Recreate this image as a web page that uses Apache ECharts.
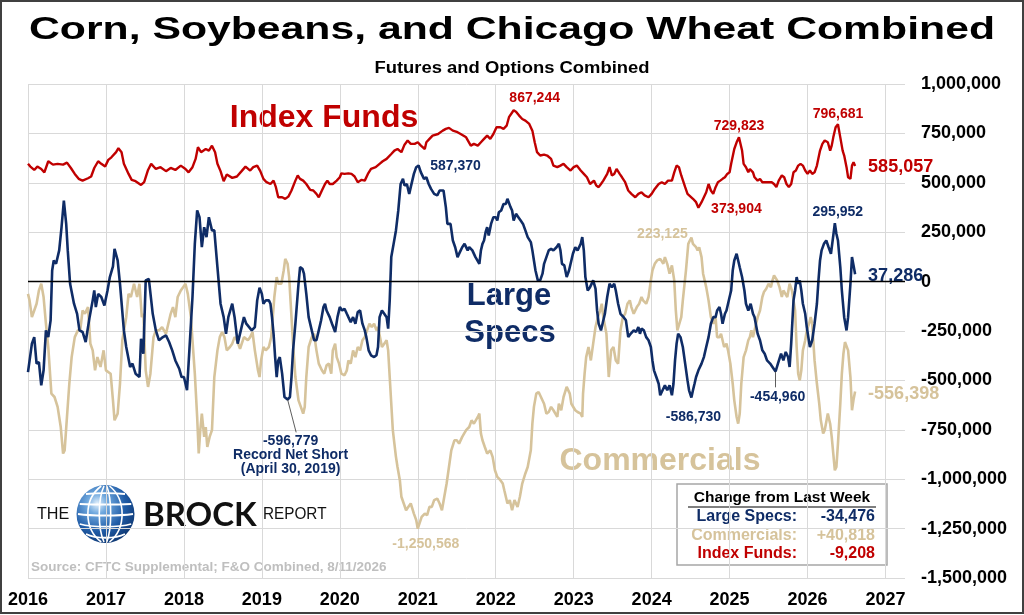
<!DOCTYPE html>
<html>
<head>
<meta charset="utf-8">
<title>Corn, Soybeans, and Chicago Wheat Combined</title>
<script src="https://cdn.jsdelivr.net/npm/echarts@6/dist/echarts.min.js"></script>
<style>
  html, body { margin: 0; padding: 0; background: #fff; }
  #chart { width: 1024px; height: 615px; }
</style>
</head>
<body>
<div id="chart"></div>
<script>
// net positions (contracts), [decimal year, value]
const indexFunds = [
  [2016.00,596000],[2016.03,582000],[2016.08,565000],[2016.12,582000],[2016.17,570000],[2016.21,553000],[2016.26,609000],[2016.32,592000],
  [2016.38,596000],[2016.45,592000],[2016.50,602000],[2016.55,575000],[2016.60,545000],[2016.65,520000],[2016.70,511000],[2016.77,523000],
  [2016.81,532000],[2016.85,575000],[2016.90,609000],[2016.94,596000],[2016.99,582000],[2017.03,616000],[2017.07,629000],[2017.13,655000],
  [2017.16,675000],[2017.20,655000],[2017.23,596000],[2017.29,545000],[2017.33,515000],[2017.38,508000],[2017.45,489000],[2017.49,503000],
  [2017.54,565000],[2017.58,596000],[2017.64,570000],[2017.70,579000],[2017.77,559000],[2017.83,575000],[2017.89,565000],[2017.96,587000],
  [2018.02,570000],[2018.06,553000],[2018.11,579000],[2018.15,621000],[2018.18,680000],[2018.22,655000],[2018.28,671000],[2018.32,663000],
  [2018.36,688000],[2018.40,655000],[2018.43,596000],[2018.47,559000],[2018.51,508000],[2018.55,542000],[2018.62,525000],[2018.68,532000],
  [2018.74,559000],[2018.79,582000],[2018.85,562000],[2018.89,579000],[2018.94,587000],[2018.98,559000],[2019.02,520000],[2019.06,503000],
  [2019.11,494000],[2019.15,511000],[2019.18,478000],[2019.21,427000],[2019.26,427000],[2019.30,419000],[2019.34,430000],[2019.38,461000],
  [2019.43,511000],[2019.46,537000],[2019.49,520000],[2019.53,511000],[2019.57,494000],[2019.62,464000],[2019.66,461000],[2019.70,444000],
  [2019.73,427000],[2019.77,461000],[2019.81,494000],[2019.84,511000],[2019.87,494000],[2019.91,494000],[2019.96,511000],[2020.00,528000],
  [2020.02,548000],[2020.06,545000],[2020.11,548000],[2020.15,545000],[2020.19,532000],[2020.23,503000],[2020.28,515000],[2020.32,511000],
  [2020.36,545000],[2020.40,570000],[2020.46,579000],[2020.51,596000],[2020.55,609000],[2020.60,621000],[2020.66,646000],[2020.70,663000],
  [2020.74,671000],[2020.79,655000],[2020.83,693000],[2020.87,714000],[2020.91,697000],[2020.96,697000],[2021.00,705000],[2021.04,688000],
  [2021.09,671000],[2021.11,705000],[2021.15,722000],[2021.19,739000],[2021.26,747000],[2021.32,764000],[2021.36,773000],[2021.40,778000],
  [2021.45,764000],[2021.51,756000],[2021.55,747000],[2021.62,730000],[2021.68,688000],[2021.72,697000],[2021.77,688000],[2021.81,705000],
  [2021.85,722000],[2021.89,739000],[2021.93,722000],[2021.97,747000],[2022.01,781000],[2022.06,781000],[2022.10,773000],[2022.14,789000],
  [2022.17,832000],[2022.23,867244],[2022.26,860000],[2022.30,840000],[2022.34,823000],[2022.38,815000],[2022.43,798000],[2022.45,789000],
  [2022.47,764000],[2022.50,705000],[2022.53,655000],[2022.57,638000],[2022.62,643000],[2022.66,638000],[2022.71,621000],[2022.74,587000],
  [2022.79,579000],[2022.83,587000],[2022.87,596000],[2022.91,579000],[2022.96,562000],[2023.00,579000],[2023.04,587000],[2023.09,562000],
  [2023.13,545000],[2023.17,528000],[2023.21,494000],[2023.26,511000],[2023.29,486000],[2023.32,478000],[2023.35,494000],[2023.38,511000],
  [2023.43,545000],[2023.46,579000],[2023.49,537000],[2023.52,545000],[2023.55,570000],[2023.59,545000],[2023.62,528000],[2023.66,503000],
  [2023.70,461000],[2023.74,444000],[2023.79,427000],[2023.83,444000],[2023.87,452000],[2023.91,436000],[2023.96,427000],[2024.00,444000],
  [2024.04,469000],[2024.09,494000],[2024.13,503000],[2024.17,494000],[2024.21,511000],[2024.26,511000],[2024.29,553000],[2024.32,587000],
  [2024.35,579000],[2024.38,537000],[2024.43,478000],[2024.46,444000],[2024.48,436000],[2024.53,419000],[2024.57,402000],[2024.60,373904],
  [2024.64,402000],[2024.67,427000],[2024.70,452000],[2024.73,494000],[2024.76,461000],[2024.79,444000],[2024.82,478000],[2024.85,503000],
  [2024.88,511000],[2024.91,520000],[2024.94,528000],[2024.97,545000],[2025.00,553000],[2025.02,596000],[2025.06,671000],[2025.09,705000],
  [2025.12,729823],[2025.14,722000],[2025.16,663000],[2025.18,596000],[2025.21,579000],[2025.24,553000],[2025.26,570000],[2025.28,579000],
  [2025.30,553000],[2025.32,528000],[2025.36,511000],[2025.39,520000],[2025.42,503000],[2025.45,503000],[2025.49,503000],[2025.54,503000],
  [2025.57,494000],[2025.60,478000],[2025.63,511000],[2025.67,537000],[2025.70,528000],[2025.73,494000],[2025.76,478000],[2025.79,494000],
  [2025.82,553000],[2025.85,562000],[2025.88,587000],[2025.91,596000],[2025.94,587000],[2025.97,562000],[2026.00,545000],[2026.03,562000],
  [2026.06,545000],[2026.09,553000],[2026.12,587000],[2026.16,663000],[2026.19,697000],[2026.22,714000],[2026.26,705000],[2026.29,663000],
  [2026.31,688000],[2026.33,730000],[2026.36,781000],[2026.39,796681],[2026.42,730000],[2026.45,663000],[2026.47,638000],[2026.50,579000],
  [2026.52,528000],[2026.55,520000],[2026.57,587000],[2026.59,604000],[2026.61,585057]
];

const largeSpecs = [
  [2016.00,-458000],[2016.02,-466000],[2016.05,-314000],[2016.08,-281000],[2016.11,-415000],[2016.14,-407000],[2016.17,-525000],[2016.20,-449000],
  [2016.23,-247000],[2016.26,-281000],[2016.29,-196000],[2016.31,56000],[2016.33,107000],[2016.36,90000],[2016.40,158000],[2016.43,275000],
  [2016.46,410000],[2016.49,292000],[2016.51,158000],[2016.54,-11000],[2016.59,-112000],[2016.63,-163000],[2016.66,-247000],[2016.70,-255000],
  [2016.74,-306000],[2016.79,-180000],[2016.83,-95000],[2016.85,-45000],[2016.87,-129000],[2016.90,-62000],[2016.94,-78000],[2016.98,-121000],
  [2017.02,-45000],[2017.05,23000],[2017.09,77000],[2017.11,166000],[2017.15,107000],[2017.18,-11000],[2017.23,-247000],[2017.26,-331000],
  [2017.31,-432000],[2017.34,-415000],[2017.38,-466000],[2017.43,-483000],[2017.45,-289000],[2017.48,-365000],[2017.51,6000],[2017.55,14000],
  [2017.60,-163000],[2017.64,-247000],[2017.68,-297000],[2017.72,-284000],[2017.77,-272000],[2017.81,-306000],[2017.85,-348000],[2017.89,-399000],
  [2017.94,-441000],[2017.97,-483000],[2018.00,-483000],[2018.04,-550000],[2018.07,-348000],[2018.11,-78000],[2018.14,191000],[2018.17,360000],
  [2018.20,326000],[2018.23,174000],[2018.26,275000],[2018.29,225000],[2018.32,326000],[2018.36,259000],[2018.39,259000],[2018.43,73000],
  [2018.47,-112000],[2018.51,-180000],[2018.54,-264000],[2018.57,-180000],[2018.62,-112000],[2018.65,-180000],[2018.69,-314000],[2018.73,-247000],
  [2018.77,-180000],[2018.80,-213000],[2018.87,-247000],[2018.91,-230000],[2018.94,-95000],[2018.97,-31000],[2019.00,-62000],[2019.02,-112000],
  [2019.05,-95000],[2019.09,-95000],[2019.11,-112000],[2019.13,-180000],[2019.15,-264000],[2019.17,-382000],[2019.19,-483000],[2019.21,-399000],
  [2019.23,-382000],[2019.26,-466000],[2019.29,-584000],[2019.33,-596779],[2019.36,-584000],[2019.38,-483000],[2019.40,-348000],[2019.43,-213000],
  [2019.47,-11000],[2019.49,73000],[2019.52,65000],[2019.54,40000],[2019.57,-62000],[2019.60,-180000],[2019.64,-247000],[2019.67,-297000],
  [2019.70,-297000],[2019.73,-247000],[2019.76,-196000],[2019.79,-129000],[2019.81,-112000],[2019.83,-146000],[2019.87,-180000],[2019.90,-213000],
  [2019.94,-255000],[2019.97,-180000],[2020.00,-129000],[2020.03,-146000],[2020.06,-137000],[2020.09,-163000],[2020.11,-180000],[2020.14,-205000],
  [2020.17,-180000],[2020.20,-213000],[2020.23,-154000],[2020.26,-146000],[2020.29,-213000],[2020.32,-247000],[2020.34,-281000],[2020.37,-348000],
  [2020.40,-373000],[2020.44,-382000],[2020.47,-373000],[2020.49,-331000],[2020.51,-180000],[2020.54,-146000],[2020.57,-163000],[2020.60,-180000],
  [2020.62,-238000],[2020.64,-95000],[2020.66,124000],[2020.69,191000],[2020.72,259000],[2020.75,360000],[2020.78,494000],[2020.81,520000],
  [2020.83,486000],[2020.86,494000],[2020.89,444000],[2020.91,478000],[2020.95,545000],[2020.98,579000],[2021.01,587370],[2021.04,553000],
  [2021.08,520000],[2021.11,528000],[2021.14,494000],[2021.17,469000],[2021.21,444000],[2021.25,436000],[2021.28,461000],[2021.33,461000],
  [2021.36,377000],[2021.38,292000],[2021.42,292000],[2021.45,208000],[2021.48,174000],[2021.51,124000],[2021.54,149000],[2021.57,174000],
  [2021.60,191000],[2021.64,158000],[2021.66,175000],[2021.70,158000],[2021.74,124000],[2021.79,90000],[2021.81,158000],[2021.83,191000],
  [2021.85,208000],[2021.87,250000],[2021.89,275000],[2021.91,233000],[2021.94,292000],[2021.97,326000],[2022.00,326000],[2022.02,309000],
  [2022.04,351000],[2022.07,360000],[2022.10,393000],[2022.13,393000],[2022.15,419000],[2022.17,419000],[2022.19,377000],[2022.21,360000],
  [2022.23,309000],[2022.26,343000],[2022.29,326000],[2022.32,309000],[2022.35,292000],[2022.38,259000],[2022.41,225000],[2022.45,200000],
  [2022.47,158000],[2022.49,107000],[2022.51,56000],[2022.54,6000],[2022.57,6000],[2022.60,40000],[2022.62,90000],[2022.65,124000],
  [2022.68,158000],[2022.71,166000],[2022.74,158000],[2022.78,174000],[2022.81,191000],[2022.83,158000],[2022.85,90000],[2022.88,82000],
  [2022.91,23000],[2022.94,56000],[2022.97,107000],[2022.99,141000],[2023.02,174000],[2023.05,158000],[2023.09,191000],[2023.11,225000],
  [2023.13,158000],[2023.15,23000],[2023.18,-45000],[2023.21,-28000],[2023.25,6000],[2023.28,-36000],[2023.30,-146000],[2023.32,-213000],
  [2023.35,-247000],[2023.37,-213000],[2023.40,-163000],[2023.43,-78000],[2023.46,-11000],[2023.49,-28000],[2023.52,-11000],[2023.54,-45000],
  [2023.57,-112000],[2023.60,-163000],[2023.64,-180000],[2023.67,-196000],[2023.70,-281000],[2023.73,-264000],[2023.77,-247000],[2023.80,-255000],
  [2023.83,-230000],[2023.85,-264000],[2023.87,-238000],[2023.90,-247000],[2023.93,-281000],[2023.96,-297000],[2023.99,-331000],[2024.01,-399000],
  [2024.03,-449000],[2024.06,-483000],[2024.09,-517000],[2024.11,-575000],[2024.14,-550000],[2024.17,-525000],[2024.20,-550000],[2024.23,-525000],
  [2024.26,-575000],[2024.28,-517000],[2024.30,-399000],[2024.32,-314000],[2024.34,-264000],[2024.37,-281000],[2024.40,-331000],[2024.43,-415000],
  [2024.46,-500000],[2024.48,-550000],[2024.51,-586730],[2024.53,-550000],[2024.55,-517000],[2024.57,-483000],[2024.60,-449000],[2024.64,-415000],
  [2024.67,-382000],[2024.70,-331000],[2024.73,-281000],[2024.76,-213000],[2024.79,-180000],[2024.82,-180000],[2024.84,-146000],[2024.87,-129000],
  [2024.89,-163000],[2024.91,-213000],[2024.94,-163000],[2024.96,-146000],[2024.98,-112000],[2025.00,-78000],[2025.02,-45000],[2025.04,56000],
  [2025.06,107000],[2025.09,141000],[2025.11,107000],[2025.13,73000],[2025.16,23000],[2025.19,-45000],[2025.21,-112000],[2025.24,-146000],
  [2025.27,-112000],[2025.30,-163000],[2025.32,-180000],[2025.36,-264000],[2025.39,-297000],[2025.42,-348000],[2025.45,-365000],[2025.48,-399000],
  [2025.52,-415000],[2025.55,-432000],[2025.59,-454960],[2025.62,-415000],[2025.66,-365000],[2025.69,-399000],[2025.72,-356000],[2025.75,-382000],
  [2025.77,-432000],[2025.79,-314000],[2025.82,-95000],[2025.84,-45000],[2025.86,23000],[2025.88,-11000],[2025.90,6000],[2025.92,-45000],
  [2025.94,-112000],[2025.97,-163000],[2025.99,-230000],[2026.01,-281000],[2026.03,-331000],[2026.06,-297000],[2026.09,-213000],[2026.12,-112000],
  [2026.14,6000],[2026.16,107000],[2026.18,158000],[2026.21,191000],[2026.24,208000],[2026.27,174000],[2026.30,141000],[2026.33,233000],
  [2026.35,295952],[2026.37,242000],[2026.39,208000],[2026.42,73000],[2026.44,-45000],[2026.47,-180000],[2026.50,-247000],[2026.52,-180000],
  [2026.55,-11000],[2026.57,124000],[2026.59,82000],[2026.61,37286]
];

const commercials = [
  [2016.00,-62000],[2016.02,-95000],[2016.05,-180000],[2016.08,-146000],[2016.11,-112000],[2016.14,-45000],[2016.17,-11000],[2016.20,-78000],
  [2016.23,-213000],[2016.26,-331000],[2016.30,-567000],[2016.34,-584000],[2016.38,-634000],[2016.42,-736000],[2016.45,-870000],[2016.47,-854000],
  [2016.50,-685000],[2016.53,-517000],[2016.56,-382000],[2016.60,-281000],[2016.64,-247000],[2016.67,-247000],[2016.70,-146000],[2016.73,-163000],
  [2016.77,-129000],[2016.80,-314000],[2016.83,-348000],[2016.86,-449000],[2016.89,-382000],[2016.93,-432000],[2016.97,-348000],[2017.00,-449000],
  [2017.02,-449000],[2017.06,-466000],[2017.09,-601000],[2017.11,-702000],[2017.15,-668000],[2017.18,-517000],[2017.21,-297000],[2017.26,-180000],
  [2017.29,-62000],[2017.32,-78000],[2017.36,-11000],[2017.40,-78000],[2017.43,-11000],[2017.46,-180000],[2017.48,-163000],[2017.51,-449000],
  [2017.54,-533000],[2017.57,-466000],[2017.61,-281000],[2017.64,-247000],[2017.68,-247000],[2017.72,-230000],[2017.77,-264000],[2017.80,-213000],
  [2017.83,-163000],[2017.86,-129000],[2017.89,-180000],[2017.92,-78000],[2017.96,-45000],[2017.99,-28000],[2018.02,-11000],[2018.05,-62000],
  [2018.09,-180000],[2018.11,-297000],[2018.14,-466000],[2018.17,-685000],[2018.19,-870000],[2018.21,-752000],[2018.23,-668000],[2018.26,-786000],
  [2018.28,-736000],[2018.30,-837000],[2018.33,-786000],[2018.36,-752000],[2018.39,-483000],[2018.43,-348000],[2018.46,-281000],[2018.49,-255000],
  [2018.52,-281000],[2018.55,-348000],[2018.59,-331000],[2018.62,-314000],[2018.65,-281000],[2018.68,-297000],[2018.72,-340000],[2018.77,-281000],
  [2018.82,-297000],[2018.85,-281000],[2018.88,-255000],[2018.91,-348000],[2018.95,-449000],[2018.97,-483000],[2018.99,-399000],[2019.02,-331000],
  [2019.05,-348000],[2019.09,-331000],[2019.12,-281000],[2019.14,-180000],[2019.16,-78000],[2019.19,23000],[2019.21,-11000],[2019.25,-11000],
  [2019.28,56000],[2019.30,115000],[2019.33,90000],[2019.35,23000],[2019.37,-112000],[2019.40,-314000],[2019.43,-483000],[2019.47,-601000],
  [2019.50,-634000],[2019.53,-668000],[2019.55,-634000],[2019.57,-483000],[2019.60,-331000],[2019.64,-281000],[2019.67,-264000],[2019.70,-348000],
  [2019.73,-415000],[2019.77,-449000],[2019.80,-466000],[2019.83,-424000],[2019.86,-415000],[2019.89,-466000],[2019.91,-348000],[2019.94,-314000],
  [2019.96,-382000],[2019.99,-415000],[2020.02,-466000],[2020.06,-474000],[2020.09,-449000],[2020.11,-399000],[2020.14,-415000],[2020.17,-348000],
  [2020.20,-382000],[2020.23,-331000],[2020.26,-348000],[2020.29,-297000],[2020.32,-281000],[2020.35,-247000],[2020.38,-213000],[2020.41,-230000],
  [2020.44,-213000],[2020.47,-247000],[2020.49,-230000],[2020.51,-238000],[2020.54,-331000],[2020.57,-314000],[2020.60,-297000],[2020.62,-348000],
  [2020.64,-483000],[2020.66,-618000],[2020.68,-752000],[2020.70,-820000],[2020.72,-887000],[2020.74,-938000],[2020.77,-1005000],[2020.79,-1089000],
  [2020.82,-1123000],[2020.85,-1157000],[2020.88,-1140000],[2020.91,-1123000],[2020.95,-1174000],[2020.98,-1207000],[2021.00,-1250568],[2021.02,-1241000],
  [2021.05,-1191000],[2021.09,-1174000],[2021.12,-1182000],[2021.15,-1140000],[2021.18,-1140000],[2021.21,-1106000],[2021.25,-1098000],[2021.28,-1123000],
  [2021.31,-1157000],[2021.34,-1089000],[2021.37,-1022000],[2021.40,-938000],[2021.43,-854000],[2021.47,-803000],[2021.50,-803000],[2021.53,-820000],
  [2021.57,-786000],[2021.62,-752000],[2021.66,-736000],[2021.69,-702000],[2021.72,-719000],[2021.77,-685000],[2021.79,-668000],[2021.81,-769000],
  [2021.83,-803000],[2021.86,-837000],[2021.89,-870000],[2021.93,-854000],[2021.96,-887000],[2021.99,-955000],[2022.02,-988000],[2022.06,-1005000],
  [2022.09,-1022000],[2022.11,-1056000],[2022.15,-1123000],[2022.18,-1106000],[2022.21,-1157000],[2022.24,-1106000],[2022.28,-1140000],[2022.31,-1089000],
  [2022.34,-1022000],[2022.38,-971000],[2022.41,-938000],[2022.45,-854000],[2022.47,-719000],[2022.49,-634000],[2022.52,-567000],[2022.55,-559000],
  [2022.58,-584000],[2022.62,-618000],[2022.65,-668000],[2022.68,-660000],[2022.71,-634000],[2022.74,-651000],[2022.79,-685000],[2022.81,-618000],
  [2022.84,-651000],[2022.87,-584000],[2022.91,-533000],[2022.95,-567000],[2022.97,-618000],[2022.99,-618000],[2023.02,-651000],[2023.05,-660000],
  [2023.09,-668000],[2023.11,-685000],[2023.12,-567000],[2023.14,-466000],[2023.16,-382000],[2023.19,-331000],[2023.22,-399000],[2023.25,-314000],
  [2023.28,-230000],[2023.31,-180000],[2023.34,-146000],[2023.36,-112000],[2023.38,-180000],[2023.42,-264000],[2023.45,-483000],[2023.48,-348000],
  [2023.51,-331000],[2023.54,-399000],[2023.57,-415000],[2023.60,-247000],[2023.63,-180000],[2023.66,-163000],[2023.69,-112000],[2023.72,-95000],
  [2023.74,-129000],[2023.77,-163000],[2023.81,-129000],[2023.84,-112000],[2023.87,-78000],[2023.89,-95000],[2023.93,-112000],[2023.96,-78000],
  [2023.99,6000],[2024.01,56000],[2024.04,90000],[2024.07,107000],[2024.11,115000],[2024.15,90000],[2024.17,124000],[2024.20,90000],
  [2024.23,40000],[2024.26,82000],[2024.29,6000],[2024.31,-146000],[2024.33,-247000],[2024.35,-247000],[2024.38,-180000],[2024.40,-95000],
  [2024.44,56000],[2024.47,191000],[2024.49,208000],[2024.51,223125],[2024.53,191000],[2024.55,200000],[2024.57,174000],[2024.59,158000],
  [2024.61,174000],[2024.64,124000],[2024.66,40000],[2024.68,6000],[2024.70,-28000],[2024.73,-95000],[2024.76,-180000],[2024.79,-213000],
  [2024.82,-180000],[2024.84,-281000],[2024.87,-281000],[2024.89,-264000],[2024.93,-331000],[2024.96,-314000],[2024.98,-348000],[2025.01,-415000],
  [2025.04,-517000],[2025.06,-601000],[2025.09,-685000],[2025.11,-719000],[2025.13,-668000],[2025.15,-517000],[2025.18,-382000],[2025.21,-348000],
  [2025.24,-297000],[2025.26,-281000],[2025.28,-247000],[2025.30,-281000],[2025.32,-247000],[2025.34,-213000],[2025.36,-180000],[2025.39,-146000],
  [2025.42,-78000],[2025.44,-53000],[2025.47,-36000],[2025.50,-11000],[2025.53,-28000],[2025.55,6000],[2025.57,31000],[2025.59,40000],
  [2025.61,6000],[2025.64,-28000],[2025.67,-78000],[2025.69,-45000],[2025.71,-45000],[2025.74,-78000],[2025.77,-11000],[2025.80,-45000],
  [2025.84,-146000],[2025.86,-331000],[2025.88,-466000],[2025.90,-500000],[2025.92,-449000],[2025.94,-348000],[2025.97,-297000],[2025.99,-247000],
  [2026.02,-213000],[2026.04,-180000],[2026.06,-213000],[2026.09,-399000],[2026.12,-517000],[2026.15,-618000],[2026.17,-702000],[2026.20,-769000],
  [2026.22,-752000],[2026.26,-668000],[2026.29,-719000],[2026.31,-786000],[2026.33,-870000],[2026.35,-955000],[2026.37,-938000],[2026.39,-820000],
  [2026.42,-618000],[2026.44,-466000],[2026.46,-365000],[2026.48,-306000],[2026.50,-297000],[2026.52,-348000],[2026.55,-483000],[2026.57,-651000],
  [2026.59,-597000],[2026.61,-556398]
];

const yearTicks = [2016, 2027];             // first / last labelled year
const yRange = [-1500000, 1000000, 250000];  // min, max, step
const weeklyChange = [
  ['Large Specs:', '-34,476'],
  ['Commercials:', '+40,818'],
  ['Index Funds:', '-9,208']
];

const RED = '#C00000';
const NAVY = '#0F2C66';
const TAN = '#D6C39B';
const FONT = '"Liberation Sans", Arial, sans-serif';
const fmt = v => Math.round(v).toLocaleString('en-US');

const chart = echarts.init(document.getElementById('chart'));

// label that sits next to a data point
function note(coord, text, offset, color, extra) {
  return {
    coord: coord,
    symbolSize: 0,
    label: Object.assign({
      show: true, formatter: text, offset: offset, color: color,
      fontSize: 14, fontWeight: 'bold', fontFamily: FONT
    }, extra || {})
  };
}

function txt(x, y, text, font, fill, align, extra) {
  return Object.assign({
    type: 'text', x: x, y: y, silent: true,
    style: {
      text: text, font: font, fill: fill,
      align: align || 'left', textAlign: align || 'left',
      verticalAlign: 'middle', textVerticalAlign: 'middle'
    }
  }, extra || {});
}

// the little globe in the logo
const globe = [];
const gx = 105.5, gy = 514, gr = 29;
globe.push({
  type: 'circle', silent: true,
  shape: { cx: gx, cy: gy, r: gr },
  style: {
    fill: new echarts.graphic.RadialGradient(0.36, 0.32, 0.8, [
      { offset: 0, color: '#E4F1FC' }, { offset: 0.22, color: '#6FA8DE' },
      { offset: 0.6, color: '#1F5BA6' }, { offset: 1, color: '#0B2F66' }
    ])
  }
});
[-20, -10, 0, 10, 20].forEach(function (d) {
  const h = Math.sqrt(gr * gr - d * d) - 1.5;
  globe.push({ type: 'bezierCurve', silent: true,
    shape: { x1: gx - h, y1: gy + d, x2: gx + h, y2: gy + d, cpx1: gx - h / 2, cpy1: gy + d * 1.15 + 2, cpx2: gx + h / 2, cpy2: gy + d * 1.15 + 2 },
    style: { stroke: '#fff', lineWidth: 1.8, fill: 'none' } });
});
[-17, -6, 5, 16].forEach(function (d) {
  globe.push({ type: 'bezierCurve', silent: true,
    shape: { x1: gx + d * 0.25, y1: gy - gr + 1, x2: gx + d * 0.25, y2: gy + gr - 1,
      cpx1: gx + d * 1.3, cpy1: gy - gr * 0.5, cpx2: gx + d * 1.3, cpy2: gy + gr * 0.5 },
    style: { stroke: '#fff', lineWidth: 1.6, fill: 'none' } });
});

const graphics = [
  txt(512, 30, 'Corn, Soybeans, and Chicago Wheat Combined', 'bold 32px ' + FONT, '#000', 'center', { scaleX: 1.335 }),
  txt(512, 69, 'Futures and Options Combined', 'bold 16px ' + FONT, '#000', 'center', { scaleX: 1.15 }),
  txt(324, 118, 'Index Funds', 'bold 32px ' + FONT, RED, 'center'),
  txt(509, 296, 'Large', 'bold 31px ' + FONT, NAVY, 'center'),
  txt(510, 333, 'Specs', 'bold 31px ' + FONT, NAVY, 'center'),
  txt(660, 461, 'Commercials', 'bold 32px ' + FONT, TAN, 'center'),
  txt(37, 514, 'THE', '17px ' + FONT, '#111', 'left', { scaleX: 0.95 }),
  txt(143, 515, 'BROCK', 'bold 33px Lato, ' + FONT, '#111', 'left'),
  txt(263, 514, 'REPORT', '17px ' + FONT, '#111', 'left', { scaleX: 0.9 }),
  txt(31, 567, 'Source: CFTC Supplemental; F&O Combined, 8/11/2026', 'bold 13.5px ' + FONT, '#BFBFBF', 'left'),
  { type: 'rect', silent: true, shape: { x: 677, y: 484, width: 210, height: 81 },
    style: { fill: '#fff', stroke: '#A6A6A6', lineWidth: 1.5 } },
  txt(782, 498, 'Change from Last Week', 'bold 15.5px ' + FONT, '#000', 'center'),
  { type: 'line', silent: true, shape: { x1: 688, y1: 507, x2: 876, y2: 507 }, style: { stroke: '#000', lineWidth: 1.2 } },
  { type: 'rect', silent: true, shape: { x: 1, y: 1, width: 1022, height: 612 },
    style: { fill: 'none', stroke: '#404040', lineWidth: 2 } }
].concat(globe);

const rowColors = [NAVY, TAN, RED];
weeklyChange.forEach(function (r, i) {
  graphics.push(txt(797, 517 + i * 18.3, r[0], 'bold 16px ' + FONT, rowColors[i], 'right'));
  graphics.push(txt(875, 517 + i * 18.3, r[1], 'bold 16px ' + FONT, rowColors[i], 'right'));
});

const lineBase = {
  type: 'line', symbol: 'none', showSymbol: false, smooth: false,
  emphasis: { disabled: true }
};

const option = {
  animation: false,
  backgroundColor: '#fff',
  textStyle: { fontFamily: FONT },
  grid: { left: 28, right: 119, top: 84, bottom: 37, containLabel: false },
  xAxis: {
    type: 'value', min: yearTicks[0], max: 2027.25, interval: 1,
    axisLine: { show: false }, axisTick: { show: false },
    splitLine: { show: true, showMaxLine: false, lineStyle: { color: '#D9D9D9', width: 1 } },
    axisLabel: {
      color: '#000', fontSize: 18, fontWeight: 'bold', margin: 13,
      formatter: v => (Number.isInteger(v) && v <= yearTicks[1]) ? String(v) : ''
    }
  },
  yAxis: {
    type: 'value', position: 'right', min: yRange[0], max: yRange[1], interval: yRange[2],
    axisLine: { show: false }, axisTick: { show: false },
    splitLine: { show: true, lineStyle: { color: '#D9D9D9', width: 1 } },
    axisLabel: { color: '#000', fontSize: 18, fontWeight: 'bold', margin: 16, formatter: fmt }
  },
  series: [
    Object.assign({}, lineBase, {
      name: 'Commercials', data: commercials, z: 2,
      lineStyle: { color: TAN, width: 2.6 }, itemStyle: { color: TAN },
      endLabel: { show: true, formatter: p => fmt(p.value[1]), color: TAN, fontSize: 18, fontWeight: 'bold', offset: [5, 2] },
      markLine: {
        silent: true, symbol: 'none', label: { show: false },
        lineStyle: { color: '#000', width: 1.3, type: 'solid' },
        data: [{ yAxis: 0 }]
      },
      markPoint: {
        symbol: 'circle', symbolSize: 0, itemStyle: { color: 'transparent' },
        data: [
          note([2021.00, -1250568], '-1,250,568', [8, 15], TAN),
          note([2024.51, 223125], '223,125', [-29, -3], TAN)
        ]
      }
    }),
    Object.assign({}, lineBase, {
      name: 'Large Specs', data: largeSpecs, z: 3,
      lineStyle: { color: NAVY, width: 2.6 }, itemStyle: { color: NAVY },
      endLabel: { show: true, formatter: p => fmt(p.value[1]), color: NAVY, fontSize: 18, fontWeight: 'bold', offset: [5, 2] },
      markLine: {
        silent: true, symbol: 'none', label: { show: false },
        lineStyle: { color: '#333', width: 0.8, type: 'solid' },
        data: [
          [{ coord: [2019.33, -596779] }, { coord: [2019.44, -763000] }],
          [{ coord: [2025.59, -454960] }, { coord: [2025.59, -535000] }]
        ]
      },
      markPoint: {
        symbol: 'circle', symbolSize: 0, itemStyle: { color: 'transparent' },
        data: [
          note([2021.01, 587370], '587,370', [37, 1], NAVY),
          note([2026.35, 295952], '295,952', [3, -11], NAVY),
          note([2024.51, -586730], '-586,730', [2, 20], NAVY),
          note([2025.59, -454960], '-454,960', [2, 26], NAVY),
          note([2019.33, -596779], '-596,779\nRecord Net Short\n(April 30, 2019)', [3, 56], NAVY,
            { lineHeight: 14, align: 'center' })
        ]
      }
    }),
    Object.assign({}, lineBase, {
      name: 'Index Funds', data: indexFunds, z: 4,
      lineStyle: { color: RED, width: 2.4 }, itemStyle: { color: RED },
      endLabel: { show: true, formatter: p => fmt(p.value[1]), color: RED, fontSize: 18, fontWeight: 'bold', offset: [5, 1] },
      markPoint: {
        symbol: 'circle', symbolSize: 0, itemStyle: { color: 'transparent' },
        data: [
          note([2022.23, 867244], '867,244', [21, -12], RED),
          note([2025.12, 729823], '729,823', [0, -11], RED),
          note([2026.39, 796681], '796,681', [0, -10], RED),
          note([2024.60, 373904], '373,904', [38, 1], RED)
        ]
      }
    })
  ],
  graphic: graphics
};

chart.setOption(option);
</script>
</body>
</html>
